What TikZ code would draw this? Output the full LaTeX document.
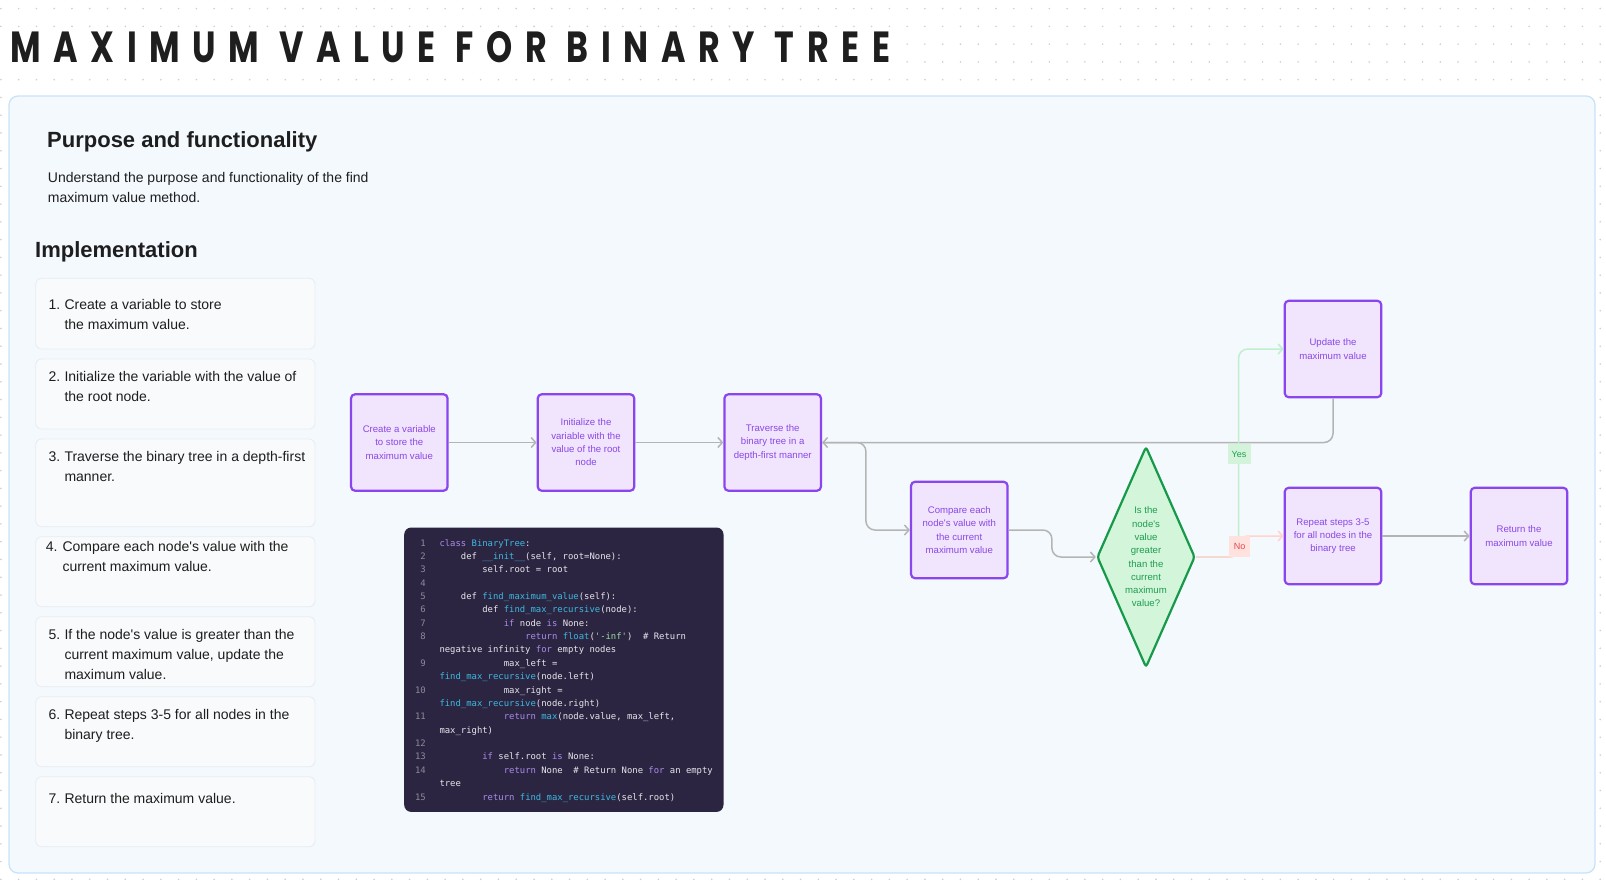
\documentclass[tikz,border=0pt]{standalone}
\usepackage{fontspec}
\setmainfont{Liberation Sans}[Ligatures=TeXOff]
\setmonofont{DejaVu Sans Mono}[Ligatures=TeXOff]
\newfontfamily\titlefont{Poppins}[LetterSpace=38]
\usetikzlibrary{arrows.meta,shapes.geometric,calc}
\definecolor{ink}{HTML}{1E1E1E}
\definecolor{dotc}{HTML}{CFCFCF}
\definecolor{panelfill}{HTML}{F4F9FE}
\definecolor{paneldraw}{HTML}{C8E3F8}
\definecolor{itemfill}{HTML}{F9FAFB}
\definecolor{itemdraw}{HTML}{E9ECEF}
\definecolor{pfill}{HTML}{F1E4FD}
\definecolor{pdraw}{HTML}{8A45EE}
\definecolor{ptext}{HTML}{8A48E6}
\definecolor{gfill}{HTML}{D3F5DA}
\definecolor{gdraw}{HTML}{17994A}
\definecolor{gtext}{HTML}{1E9E50}
\definecolor{conn}{HTML}{B4B4B4}
\definecolor{yesline}{HTML}{BFEFCB}
\definecolor{noline}{HTML}{FFD3CE}
\definecolor{yesfill}{HTML}{D3F4DA}
\definecolor{nofill}{HTML}{FFE1DE}
\definecolor{notext}{HTML}{E5484D}
\definecolor{codebg}{HTML}{2C2541}
\definecolor{cplain}{HTML}{E6E6EC}
\definecolor{ckw}{HTML}{A98CEB}
\definecolor{cfn}{HTML}{3CB9E0}
\definecolor{cstr}{HTML}{98E0A0}
\definecolor{cnum}{HTML}{8C8A9B}
\newcommand\kw[1]{\textcolor{ckw}{#1}}
\newcommand\fn[1]{\textcolor{cfn}{#1}}
\newcommand\st[1]{\textcolor{cstr}{#1}}
\begin{document}
\begin{tikzpicture}[x=1pt,y=-1pt,
  fbox/.style={draw=pdraw, fill=pfill, line width=2.2pt, rounded corners=4pt,
    minimum width=96.5pt, minimum height=96.5pt, inner sep=0pt, text=ptext,
    align=center, font=\fontsize{9.6}{13.3}\selectfont},
  dia/.style={diamond, draw=gdraw, fill=gfill, line width=2.2pt, rounded corners=3pt,
    minimum width=98pt, minimum height=221pt, inner sep=0pt},
  diatext/.style={text=gtext, align=center, font=\fontsize{9.6}{13.3}\selectfont},
  cline/.style={draw=conn, line width=1.5pt, rounded corners=9pt,
    -{Straight Barb[length=4.5pt,width=10pt]}},
  yline/.style={cline, draw=yesline},
  nline/.style={cline, draw=noline},
  lbl/.style={inner sep=0pt, font=\fontsize{9}{11}\selectfont},
  item/.style={draw=itemdraw, fill=itemfill, line width=0.8pt, rounded corners=6pt},
  itext/.style={anchor=base west, inner sep=0pt, text=ink, font=\fontsize{14}{16}\selectfont},
  head/.style={anchor=base west, inner sep=0pt, text=ink, font=\bfseries\fontsize{22}{26}\selectfont},
  code/.style={anchor=base west, inner sep=0pt, text=cplain, font=\ttfamily\fontsize{8.9}{11}\selectfont},
  cnumst/.style={anchor=base east, inner sep=0pt, text=cnum, font=\ttfamily\fontsize{8.9}{11}\selectfont}
]
\useasboundingbox (0,0) rectangle (1606,884);
\fill[white] (0,0) rectangle (1606,884);
% dot grid
\foreach \i in {0,...,90}{
  \foreach \j in {0,...,49}{
    \fill[dotc] ({0.9+\i*17.77},{8.6+\j*17.77}) circle (0.9);
  }
}
% title
\fill[white] (0,33) rectangle (905,72);
\node[anchor=north west, inner sep=0pt, text=ink] (title) at (10,31.7)
  {\resizebox{880pt}{31pt}{\titlefont\bfseries MAXIMUM VALUE FOR BINARY TREE}};
% panel
\filldraw[fill=panelfill, draw=paneldraw, line width=1.3pt, rounded corners=9pt]
  (9,96) rectangle (1595,873);
% headings
\node[head] (h1) at (47,147) {Purpose and functionality};
\node[itext] (p1) at (47.7,182.7) {Understand the purpose and functionality of the find};
\node[itext] (p2) at (47.7,202.7) {maximum value method.};
\node[head] (h2) at (35,257.7) {Implementation};
% list items
\draw[item] (35.7,278.3) rectangle (315,349);
\draw[item] (35.7,359) rectangle (315,429);
\draw[item] (35.7,439) rectangle (315,526.7);
\draw[item] (35.7,536.7) rectangle (315,606.7);
\draw[item] (35.7,616.7) rectangle (315,686.7);
\draw[item] (35.7,696.7) rectangle (315,766.7);
\draw[item] (35.7,776.7) rectangle (315,846.7);
\node[itext] (l1n) at (48.3,309.3) {1.};
\node[itext] (l1a) at (64.3,309.3) {Create a variable to store};
\node[itext] (l1b) at (64.3,329.3) {the maximum value.};
\node[itext] (l2n) at (48.3,381.7) {2.};
\node[itext] (l2a) at (64.3,381.7) {Initialize the variable with the value of};
\node[itext] (l2b) at (64.3,401.7) {the root node.};
\node[itext] (l3n) at (48.3,461.7) {3.};
\node[itext] (l3a) at (64.3,461.7) {Traverse the binary tree in a depth-first};
\node[itext] (l3b) at (64.3,481.7) {manner.};
\node[itext] (l4n) at (45.7,551.7) {4.};
\node[itext] (l4a) at (62.3,551.7) {Compare each node's value with the};
\node[itext] (l4b) at (62.3,571.7) {current maximum value.};
\node[itext] (l5n) at (48.3,639.3) {5.};
\node[itext] (l5a) at (64.3,639.3) {If the node's value is greater than the};
\node[itext] (l5b) at (64.3,659.3) {current maximum value, update the};
\node[itext] (l5c) at (64.3,679.3) {maximum value.};
\node[itext] (l6n) at (48.3,719.3) {6.};
\node[itext] (l6a) at (64.3,719.3) {Repeat steps 3-5 for all nodes in the};
\node[itext] (l6b) at (64.3,739.3) {binary tree.};
\node[itext] (l7n) at (48.3,803.3) {7.};
\node[itext] (l7a) at (64.3,803.3) {Return the maximum value.};
% code block
\node[fill=codebg, rounded corners=7pt, minimum width=319.3pt, minimum height=284.4pt,
  inner sep=0pt, anchor=north west] (codebox) at (404,527.3) {};
\foreach \n/\r in {1/0,2/1,3/2,4/3,5/4,6/5,7/6,8/7,9/9,10/11,11/13,12/15,13/16,14/17,15/19}{
  \node[cnumst] (num\n) at (426,{546+\r*13.37}) {\n};
}
\newcommand\cx[1]{439.3+#1*5.36}
\node[code] (c1) at ({\cx{0}},546) {\kw{class} \fn{BinaryTree}:};
\node[code] (c2) at ({\cx{4}},{546+1*13.37}) {def \fn{\_\_init\_\_}(self,\ root=None):};
\node[code] (c3) at ({\cx{8}},{546+2*13.37}) {self.root\ =\ root};
\node[code] (c5) at ({\cx{4}},{546+4*13.37}) {def \fn{find\_maximum\_value}(self):};
\node[code] (c6) at ({\cx{8}},{546+5*13.37}) {def \fn{find\_max\_recursive}(node):};
\node[code] (c7) at ({\cx{12}},{546+6*13.37}) {\kw{if}\ node\ \kw{is}\ None:};
\node[code] (c8) at ({\cx{16}},{546+7*13.37}) {\kw{return}\ \fn{float}(\st{\char"27-inf\char"27})\ \ \#\ Return};
\node[code] (c8b) at ({\cx{0}},{546+8*13.37}) {negative\ infinity\ \kw{for}\ empty\ nodes};
\node[code] (c9) at ({\cx{12}},{546+9*13.37}) {max\_left\ =};
\node[code] (c9b) at ({\cx{0}},{546+10*13.37}) {\fn{find\_max\_recursive}(node.left)};
\node[code] (c10) at ({\cx{12}},{546+11*13.37}) {max\_right\ =};
\node[code] (c10b) at ({\cx{0}},{546+12*13.37}) {\fn{find\_max\_recursive}(node.right)};
\node[code] (c11) at ({\cx{12}},{546+13*13.37}) {\kw{return}\ \fn{max}(node.value,\ max\_left,};
\node[code] (c11b) at ({\cx{0}},{546+14*13.37}) {max\_right)};
\node[code] (c13) at ({\cx{8}},{546+16*13.37}) {\kw{if}\ self.root\ \kw{is}\ None:};
\node[code] (c14) at ({\cx{12}},{546+17*13.37}) {\kw{return}\ None\ \ \#\ Return\ None\ \kw{for}\ an\ empty};
\node[code] (c14b) at ({\cx{0}},{546+18*13.37}) {tree};
\node[code] (c15) at ({\cx{8}},{546+19*13.37}) {\kw{return}\ \fn{find\_max\_recursive}(self.root)};
% flowchart nodes
\node[fbox] (n1) at (399.3,442.5) {Create a variable\\to store the\\maximum value};
\node[fbox] (n2) at (586,442.5) {Initialize the\\variable with the\\value of the root\\node};
\node[fbox] (n3) at (772.7,442.5) {Traverse the\\binary tree in a\\depth-first manner};
\node[fbox] (cmp) at (959.3,530) {Compare each\\node's value with\\the current\\maximum value};
\node[dia] (dia) at (1146,557) {};
\node[diatext] (diat) at (dia.center) {Is the\\node's\\value\\greater\\than the\\current\\maximum\\value?};
\node[fbox] (upd) at (1333,349) {Update the\\maximum value};
\node[fbox] (rep) at (1333,536) {Repeat steps 3-5\\for all nodes in the\\binary tree};
\node[fbox] (ret) at (1519,536) {Return the\\maximum value};
% connectors
\draw[cline] (n1.east) -- (n2.west);
\draw[cline] (n2.east) -- (n3.west);
\draw[cline] (upd.south) |- (n3.east);
\draw[cline] (n3.east) -| ([xshift=-44pt]cmp.west) -- (cmp.west);
\draw[cline] (cmp.east) -| ([xshift=-44pt]dia.west) -- (dia.west);
\draw[yline] (dia.east) -| ([xshift=-45pt]upd.west) -- (upd.west);
\draw[nline] (dia.east) -| ([xshift=-45pt]rep.west) -- (rep.west);
\draw[cline] (rep.east) -- (ret.west);
% labels
\node[lbl, fill=yesfill, text=gtext, minimum width=23pt, minimum height=20pt] (yes) at (1239,454) {Yes};
\node[lbl, fill=nofill, text=notext, minimum width=21pt, minimum height=21pt] (no) at (1239.5,546.5) {No};
\end{tikzpicture}
\end{document}
